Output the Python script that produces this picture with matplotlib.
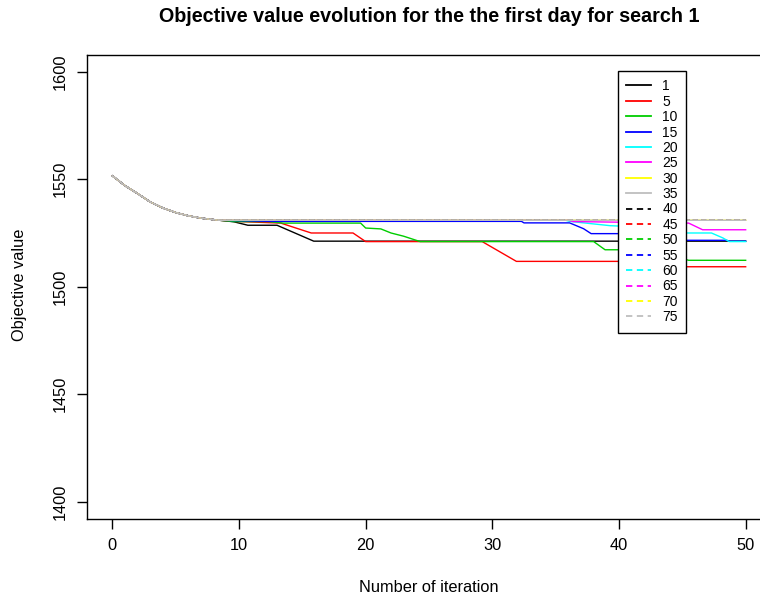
import matplotlib
matplotlib.use("Agg")
import matplotlib.pyplot as plt

plt.rcParams['font.family'] = ['Liberation Sans', 'DejaVu Sans']

# shared start of every run (iterations 0 .. 8.5)
iter_start = [0, 1, 2, 3, 4, 5, 6, 7, 8, 8.5]
obj_start = [1551.6, 1547.0, 1543.3, 1539.4, 1536.6, 1534.5, 1533.0, 1531.9, 1531.2, 1530.9]

# remaining part of each run
iter_1 = [9.6, 10.7, 13.0, 15.9, 50]
obj_1 = [1530.2, 1528.6, 1528.6, 1521.2, 1521.2]

iter_5 = [9.6, 13.3, 15.7, 19.0, 20.0, 29.2, 31.9, 42.0, 43.0, 50]
obj_5 = [1530.4, 1529.6, 1525.0, 1525.0, 1521.0, 1521.0, 1511.8, 1511.8, 1509.3, 1509.3]

iter_10 = [9.6, 12.3, 13.5, 19.6, 20.0, 21.2, 22.0, 23.0, 24.3, 38.0, 38.9, 43.0, 45.0, 45.5, 50]
obj_10 = [1530.3, 1530.3, 1529.6, 1529.6, 1527.3, 1526.9, 1525.0, 1523.5, 1521.0, 1521.0,
          1517.2, 1517.2, 1513.1, 1512.3, 1512.3]

iter_15 = [12.5, 32.3, 32.5, 36.1, 37.2, 37.8, 41.0, 44.5, 48.5, 48.7, 50]
obj_15 = [1530.4, 1530.4, 1529.7, 1529.7, 1527.0, 1524.7, 1524.7, 1521.6, 1521.6, 1521.2, 1521.2]

iter_20 = [35.8, 36.1, 39.3, 41.0, 44.5, 47.3, 48.2, 48.7, 50]
obj_20 = [1530.9, 1530.4, 1528.4, 1528.0, 1525.0, 1525.0, 1522.7, 1521.0, 1521.0]

iter_25 = [36.0, 36.4, 45.5, 46.6, 50]
obj_25 = [1530.9, 1530.3, 1529.6, 1526.5, 1526.5]

iter_flat = [50]
obj_flat = [1530.9]

run_labels = ['1', '5', '10', '15', '20', '25', '30', '35',
              '40', '45', '50', '55', '60', '65', '70', '75']
run_iters = [iter_1, iter_5, iter_10, iter_15, iter_20, iter_25, iter_flat, iter_flat,
             iter_flat, iter_flat, iter_flat, iter_flat, iter_flat, iter_flat, iter_flat, iter_flat]
run_objs = [obj_1, obj_5, obj_10, obj_15, obj_20, obj_25, obj_flat, obj_flat,
            obj_flat, obj_flat, obj_flat, obj_flat, obj_flat, obj_flat, obj_flat, obj_flat]

palette = ['black', '#FF0000', '#00CD00', '#0000FF', '#00FFFF', '#FF00FF', '#FFFF00', '#BEBEBE']

fig = plt.figure(figsize=(7.6, 6), dpi=100)
ax = fig.add_axes([87 / 760, 1 - 519 / 600, (771 - 87) / 760, (519 - 54.5) / 600])

for i, lab in enumerate(run_labels):
    ls = '-' if i < 8 else (0, (3.5, 2.5))
    # the solid grey run sits on top, the identical dashed ones are hidden under it
    z = 3 if lab == '35' else 2
    ax.plot(iter_start + run_iters[i], obj_start + run_objs[i], color=palette[i % 8],
            lw=1.0, ls=ls, label=lab, zorder=z)

ax.set_xlim(-2, 52)
ax.set_ylim(1392, 1608)
ax.set_xticks([0, 10, 20, 30, 40, 50])
ax.set_yticks([1400, 1450, 1500, 1550, 1600])
ax.tick_params(direction='out', length=7, width=1, labelsize=11.8, pad=7)
ax.tick_params(axis='y', labelrotation=90)
for lbl in ax.get_yticklabels():
    lbl.set_va('center')
for sp in ax.spines.values():
    sp.set_linewidth(1.0)

fig.text(429 / 760, 1 - 17 / 600, 'Objective value evolution for the the first day for search 1',
         ha='center', va='center', fontsize=14.2, fontweight='bold')
fig.text(429 / 760, 1 - 587 / 600, 'Number of iteration', ha='center', va='center', fontsize=11.8)
fig.text(20 / 760, 1 - 285 / 600, 'Objective value', ha='center', va='center',
         rotation=90, fontsize=11.8)

leg = ax.legend(loc='upper left', bbox_to_anchor=(618 / 760, 1 - 71 / 600),
                bbox_transform=fig.transFigure, fontsize=10, frameon=True, fancybox=False,
                framealpha=1, edgecolor='black', borderpad=0.6, labelspacing=0.1,
                handlelength=1.8, handletextpad=0.8, borderaxespad=0)
leg.get_frame().set_linewidth(1.0)
for h in leg.get_lines():
    h.set_linewidth(1.3)
leg.set_zorder(5)

fig.savefig('out.png', dpi=100)
